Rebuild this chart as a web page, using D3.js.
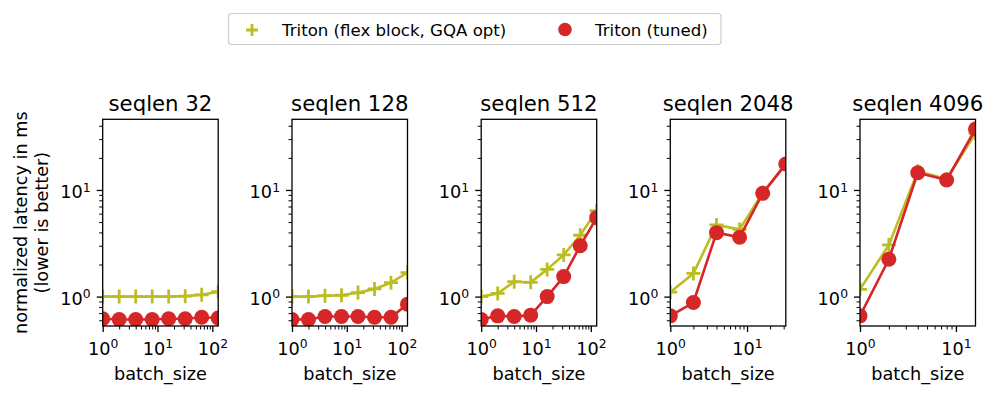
<!DOCTYPE html>
<html>
<head>
<meta charset="utf-8">
<script src="https://cdn.jsdelivr.net/npm/d3@7.9.0/dist/d3.min.js"></script>
<style>
  body { margin: 0; background: #fff; }
  svg { font-family: "DejaVu Sans", sans-serif; }
</style>
</head>
<body>
<svg id="chart" width="997" height="397"></svg>
<script>
// data
const seqlens = [32, 128, 512, 2048, 4096];
const batchSizes = [
  [1, 2, 4, 8, 16, 32, 64, 128],
  [1, 2, 4, 8, 16, 32, 64, 128],
  [1, 2, 4, 8, 16, 32, 64, 128],
  [1, 2, 4, 8, 16, 32],
  [1, 2, 4, 8, 16]
];
const flexBlock = [
  [1.0, 1.0, 1.0, 1.0, 1.0, 1.01, 1.04, 1.11],
  [1.0, 1.0, 1.02, 1.03, 1.09, 1.18, 1.35, 1.68],
  [1.0, 1.07, 1.38, 1.36, 1.8, 2.46, 3.76, 6.4],
  [1.1, 1.65, 4.7, 4.27, 9.4, 17.6],
  [1.17, 3.05, 15.0, 12.7, 34.0]
];
const tuned = [
  [0.62, 0.61, 0.61, 0.61, 0.62, 0.62, 0.64, 0.63],
  [0.61, 0.61, 0.65, 0.65, 0.65, 0.64, 0.64, 0.85],
  [0.61, 0.66, 0.65, 0.67, 1.0, 1.54, 3.0, 5.5],
  [0.66, 0.88, 3.98, 3.6, 9.3, 17.5],
  [0.66, 2.24, 14.5, 12.4, 37.3]
];
const seriesNames = ['Triton (flex block, GQA opt)', 'Triton (tuned)'];
const colors = ['#bcbd22', '#d62728'];

const svg = d3.select('#chart');
const panelW = 115.5, plotTop = 119.3, plotBottom = 326;
const lefts = [102.7, 292, 481.2, 670.3, 860];
const fs = 17.7;

const y = d3.scaleLog().domain([0.53, 46]).range([plotBottom, plotTop]);

function minorTicks(lo, hi) {
  let out = [];
  for (let e = -1; e <= 3; e++) {
    for (let m = 2; m <= 9; m++) {
      let v = m * Math.pow(10, e);
      if (v >= lo * 0.9999 && v <= hi * 1.0001) out.push(v);
    }
  }
  return out;
}

function supLabel(sel) {
  sel.each(function(d) {
    const t = d3.select(this);
    const e = Math.round(Math.log10(d));
    t.text(null);
    t.append('tspan').text('10');
    t.append('tspan').attr('dy', '-0.55em').attr('font-size', fs * 0.7).text(e);
  });
}

seqlens.forEach((s, i) => {
  const bs = batchSizes[i];
  const x = d3.scaleLog().domain([bs[0], bs[bs.length - 1]]).range([0, panelW]);
  const g = svg.append('g').attr('transform', `translate(${lefts[i]},0)`);

  g.append('clipPath').attr('id', 'clip' + i)
    .append('rect').attr('x', 0).attr('y', plotTop).attr('width', panelW).attr('height', plotBottom - plotTop);

  // minor ticks
  const xd = x.domain();
  g.append('g').attr('transform', `translate(0,${plotBottom})`)
    .call(d3.axisBottom(x).tickValues(minorTicks(xd[0], xd[1])).tickSize(3.5).tickFormat(''))
    .call(a => a.select('.domain').remove())
    .call(a => a.selectAll('line').attr('stroke-width', 1));
  g.append('g')
    .call(d3.axisLeft(y).tickValues(minorTicks(0.53, 46)).tickSize(3.5).tickFormat(''))
    .call(a => a.select('.domain').remove())
    .call(a => a.selectAll('line').attr('stroke-width', 1));

  // major ticks
  const xMajor = [1, 10, 100].filter(v => v >= xd[0] && v <= xd[1]);
  g.append('g').attr('transform', `translate(0,${plotBottom})`)
    .call(d3.axisBottom(x).tickValues(xMajor).tickSize(6).tickPadding(6))
    .call(a => a.select('.domain').remove())
    .call(a => a.selectAll('line').attr('stroke-width', 1.3))
    .call(a => a.selectAll('text').attr('font-size', fs).attr('fill', '#000')
      .attr('font-family', '"DejaVu Sans", sans-serif').attr('dy', '0.95em').call(supLabel));
  g.append('g')
    .call(d3.axisLeft(y).tickValues([1, 10]).tickSize(6).tickPadding(6))
    .call(a => a.select('.domain').remove())
    .call(a => a.selectAll('line').attr('stroke-width', 1.3))
    .call(a => a.selectAll('text').attr('font-size', fs).attr('fill', '#000')
      .attr('font-family', '"DejaVu Sans", sans-serif').attr('dy', '0.45em').call(supLabel));

  // series
  const plot = g.append('g').attr('clip-path', `url(#clip${i})`);
  const line = d3.line().x(d => x(d[0])).y(d => y(d[1]));
  [flexBlock[i], tuned[i]].forEach((vals, k) => {
    const pts = bs.map((b, j) => [b, vals[j]]);
    plot.append('path').datum(pts).attr('d', line)
      .attr('fill', 'none').attr('stroke', colors[k]).attr('stroke-width', 2.6)
      .attr('stroke-linejoin', 'round');
    if (k === 0) {
      plot.selectAll(null).data(pts).enter().append('path')
        .attr('transform', d => `translate(${x(d[0])},${y(d[1])})`)
        .attr('d', 'M-7,0H7M0,-7V7')
        .attr('stroke', colors[k]).attr('stroke-width', 2.8);
    } else {
      plot.selectAll(null).data(pts).enter().append('circle')
        .attr('cx', d => x(d[0])).attr('cy', d => y(d[1])).attr('r', 7.5)
        .attr('fill', colors[k]);
    }
  });

  // frame
  g.append('rect').attr('x', 0).attr('y', plotTop).attr('width', panelW).attr('height', plotBottom - plotTop)
    .attr('fill', 'none').attr('stroke', '#000').attr('stroke-width', 1.3);

  g.append('text').attr('x', panelW / 2).attr('y', 111).attr('text-anchor', 'middle')
    .attr('font-size', fs * 1.2).text('seqlen ' + s);
  g.append('text').attr('x', panelW / 2).attr('y', 380).attr('text-anchor', 'middle')
    .attr('font-size', fs).text('batch_size');
});

// y label
const yl = svg.append('text').attr('transform', `translate(0,${(plotTop + plotBottom) / 2}) rotate(-90)`)
  .attr('text-anchor', 'middle').attr('font-size', fs);
yl.append('tspan').attr('x', 0).attr('y', 27).text('normalized latency in ms');
yl.append('tspan').attr('x', 0).attr('y', 47.5).text('(lower is better)');

// legend
const lg = svg.append('g');
lg.append('rect').attr('x', 228.5).attr('y', 13.5).attr('width', 492.5).attr('height', 31)
  .attr('rx', 3).attr('fill', '#fff').attr('stroke', '#ccc').attr('stroke-width', 1.2);
lg.append('path').attr('transform', 'translate(252,30)').attr('d', 'M-6,0H6M0,-6V6')
  .attr('stroke', colors[0]).attr('stroke-width', 2.8);
lg.append('circle').attr('cx', 565).attr('cy', 29.5).attr('r', 6.8).attr('fill', colors[1]);
lg.append('text').attr('x', 282).attr('y', 35.5).attr('font-size', 16.6).text(seriesNames[0]);
lg.append('text').attr('x', 595).attr('y', 35.5).attr('font-size', 16.6).text(seriesNames[1]);
</script>
</body>
</html>
